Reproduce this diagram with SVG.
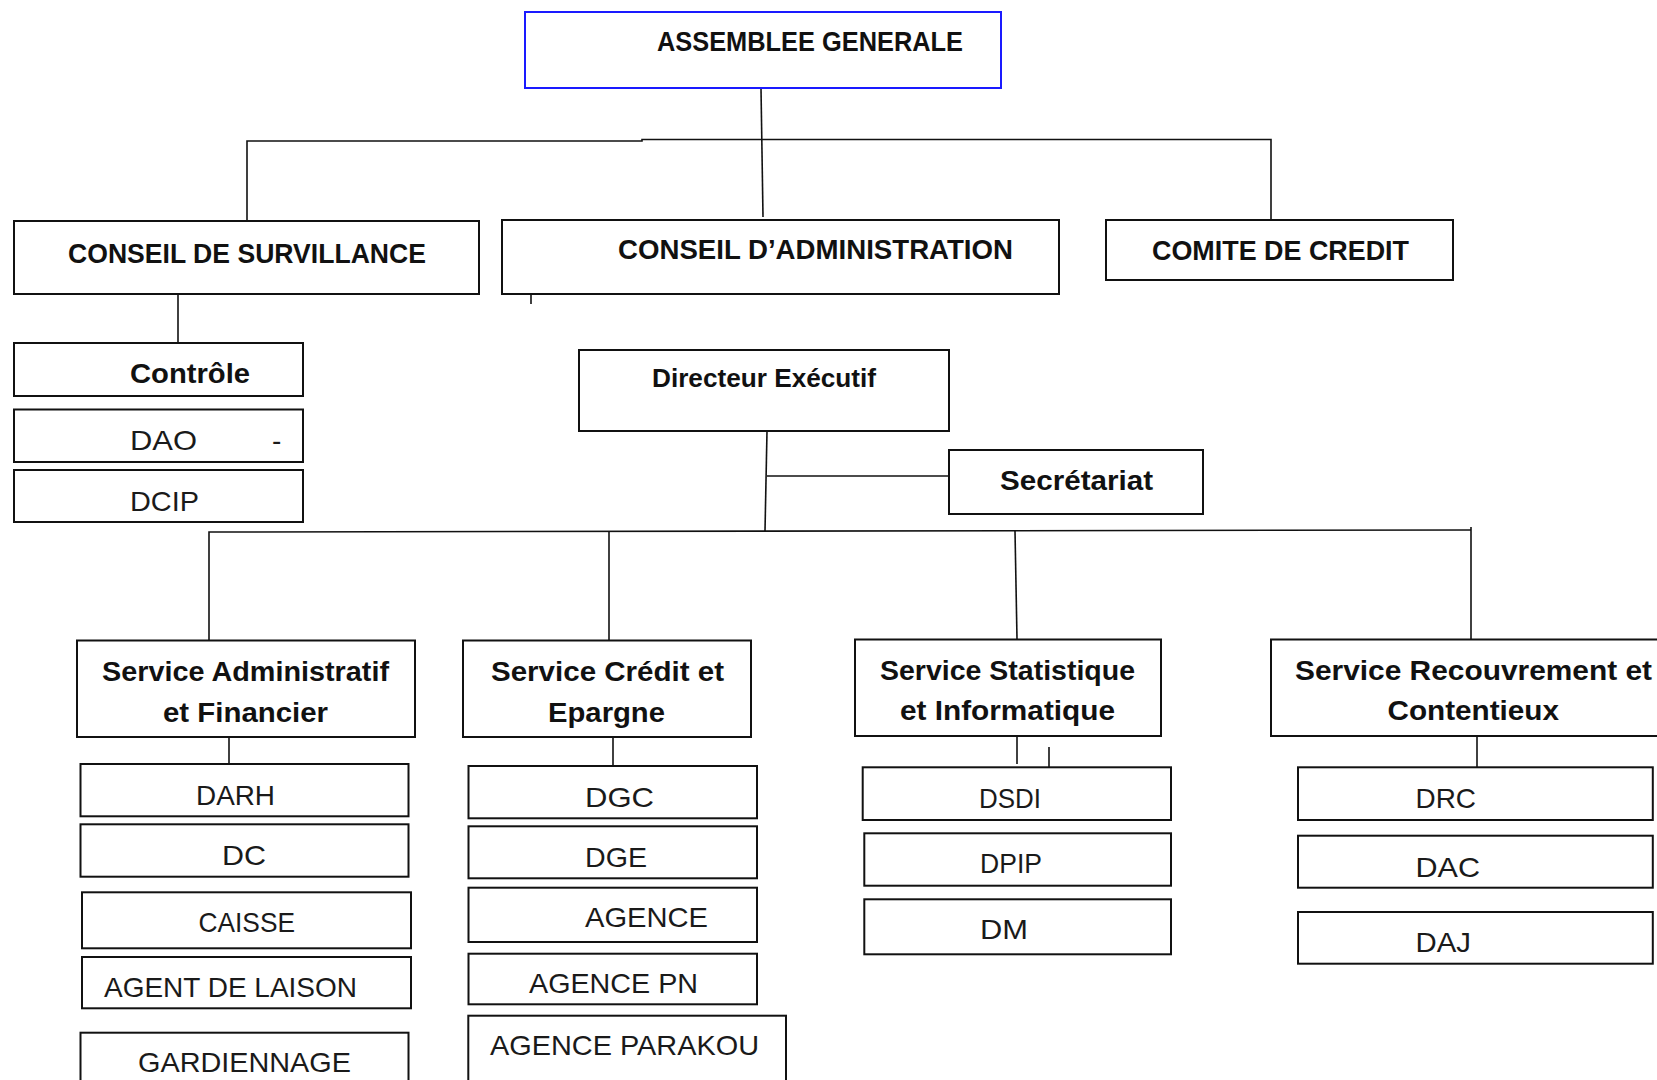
<svg xmlns="http://www.w3.org/2000/svg" width="1657" height="1080" viewBox="0 0 1657 1080">
<style>
.box{fill:#fff;stroke:#111;stroke-width:2}
.blue{fill:#fff;stroke:#1a1aff;stroke-width:2}
.c{fill:none;stroke:#111;stroke-width:1.6}
.b{font-family:"Liberation Sans",Arial,sans-serif;font-weight:bold;font-size:28px;fill:#111}
.bs{font-family:"Liberation Sans",Arial,sans-serif;font-weight:bold;font-size:25px;fill:#111}
.r{font-family:"Liberation Sans",Arial,sans-serif;font-size:28px;fill:#1a1a1a}
</style>
<rect width="1657" height="1080" fill="#fff"/>
<g id="connectors">
<path class="c" d="M761,88 L763,217"/>
<path class="c" d="M247,221 V141 H642 V139.5 H1271 V220"/>
<path class="c" d="M178,294 V343"/>
<path class="c" d="M531,294 V304"/>
<path class="c" d="M767,431 L765,531"/>
<path class="c" d="M767,476 H949"/>
<path class="c" d="M209,640 V532 L1471,530"/>
<path class="c" d="M1471,527 V639"/>
<path class="c" d="M609,532 V640"/>
<path class="c" d="M1015,531 L1017,639"/>
<path class="c" d="M229,737 V764"/>
<path class="c" d="M613,737 V766"/>
<path class="c" d="M1017,736 V764"/>
<path class="c" d="M1049,747 V776"/>
<path class="c" d="M1477,736 V767"/>
</g>
<g id="assemblee"><rect class="blue" x="525" y="12" width="476" height="76"/><text class="b" x="657" y="51" textLength="306" lengthAdjust="spacingAndGlyphs">ASSEMBLEE GENERALE</text></g>
<g id="conseil-surveillance"><rect class="box" x="14" y="221" width="465" height="73"/><text class="b" x="68" y="263" textLength="358" lengthAdjust="spacingAndGlyphs">CONSEIL DE SURVILLANCE</text></g>
<g id="conseil-administration"><rect class="box" x="502" y="220" width="557" height="74"/><text class="b" x="618" y="259" textLength="395" lengthAdjust="spacingAndGlyphs">CONSEIL D’ADMINISTRATION</text></g>
<g id="comite-credit"><rect class="box" x="1106" y="220" width="347" height="60"/><text class="b" x="1152" y="260" textLength="257" lengthAdjust="spacingAndGlyphs">COMITE DE CREDIT</text></g>
<g id="controle"><rect class="box" x="14" y="343" width="289" height="53"/><text class="b" x="130" y="383" textLength="120" lengthAdjust="spacingAndGlyphs">Contrôle</text></g>
<g id="dao"><rect class="box" x="14" y="409.5" width="289" height="52.5"/><text class="r" x="130" y="450" textLength="67" lengthAdjust="spacingAndGlyphs">DAO</text><text class="r" x="272" y="450">-</text></g>
<g id="dcip"><rect class="box" x="14" y="470" width="289" height="52"/><text class="r" x="130" y="511" textLength="69" lengthAdjust="spacingAndGlyphs">DCIP</text></g>
<g id="directeur"><rect class="box" x="579" y="350" width="370" height="81"/><text class="bs" x="652" y="387" textLength="224" lengthAdjust="spacingAndGlyphs">Directeur Exécutif</text></g>
<g id="secretariat"><rect class="box" x="949" y="450" width="254" height="64"/><text class="b" x="1000" y="490" textLength="153" lengthAdjust="spacingAndGlyphs">Secrétariat</text></g>
<g id="saf"><rect class="box" x="77" y="640.5" width="338" height="96.5"/><text class="b" x="102" y="681" textLength="287" lengthAdjust="spacingAndGlyphs">Service Administratif</text><text class="b" x="163" y="722" textLength="165" lengthAdjust="spacingAndGlyphs">et Financier</text></g>
<g id="sce"><rect class="box" x="463" y="640.5" width="288" height="96.5"/><text class="b" x="491" y="681" textLength="233" lengthAdjust="spacingAndGlyphs">Service Crédit et</text><text class="b" x="548" y="722" textLength="117" lengthAdjust="spacingAndGlyphs">Epargne</text></g>
<g id="ssi"><rect class="box" x="855" y="639.5" width="306" height="96.5"/><text class="b" x="880" y="680" textLength="255" lengthAdjust="spacingAndGlyphs">Service Statistique</text><text class="b" x="900" y="720" textLength="215" lengthAdjust="spacingAndGlyphs">et Informatique</text></g>
<g id="src"><rect class="box" x="1271" y="639.5" width="400" height="96.5"/><text class="b" x="1295" y="680" textLength="357" lengthAdjust="spacingAndGlyphs">Service Recouvrement et</text><text class="b" x="1387.5" y="720" textLength="171.5" lengthAdjust="spacingAndGlyphs">Contentieux</text></g>
<g id="darh"><rect class="box" x="80.5" y="764" width="328" height="52.3"/><text class="r" x="196" y="805" textLength="79" lengthAdjust="spacingAndGlyphs">DARH</text></g>
<g id="dc"><rect class="box" x="80.5" y="824.3" width="328" height="52.4"/><text class="r" x="222" y="865" textLength="44" lengthAdjust="spacingAndGlyphs">DC</text></g>
<g id="caisse"><rect class="box" x="82" y="892.3" width="329" height="56"/><text class="r" x="198.5" y="932" textLength="96.5" lengthAdjust="spacingAndGlyphs">CAISSE</text></g>
<g id="agent-laison"><rect class="box" x="82" y="957" width="329" height="51.3"/><text class="r" x="104" y="997" textLength="253" lengthAdjust="spacingAndGlyphs">AGENT DE LAISON</text></g>
<g id="gardiennage"><rect class="box" x="80.5" y="1032.7" width="328" height="70"/><text class="r" x="138" y="1072" textLength="213" lengthAdjust="spacingAndGlyphs">GARDIENNAGE</text></g>
<g id="dgc"><rect class="box" x="468.5" y="766" width="288.5" height="52.3"/><text class="r" x="585" y="807" textLength="69" lengthAdjust="spacingAndGlyphs">DGC</text></g>
<g id="dge"><rect class="box" x="468.5" y="826.3" width="288.5" height="52"/><text class="r" x="585" y="867" textLength="62" lengthAdjust="spacingAndGlyphs">DGE</text></g>
<g id="agence"><rect class="box" x="468.5" y="887.7" width="288.5" height="54.3"/><text class="r" x="585" y="927" textLength="123" lengthAdjust="spacingAndGlyphs">AGENCE</text></g>
<g id="agence-pn"><rect class="box" x="468.5" y="953.7" width="288.5" height="50.6"/><text class="r" x="529" y="993" textLength="169" lengthAdjust="spacingAndGlyphs">AGENCE PN</text></g>
<g id="agence-parakou"><rect class="box" x="468.3" y="1015.7" width="317.7" height="80"/><text class="r" x="490" y="1055" textLength="269" lengthAdjust="spacingAndGlyphs">AGENCE PARAKOU</text></g>
<g id="dsdi"><rect class="box" x="862.7" y="767.3" width="308.3" height="52.7"/><text class="r" x="979" y="808" textLength="62" lengthAdjust="spacingAndGlyphs">DSDI</text></g>
<g id="dpip"><rect class="box" x="864.3" y="833.3" width="306.7" height="52.4"/><text class="r" x="980" y="873" textLength="62" lengthAdjust="spacingAndGlyphs">DPIP</text></g>
<g id="dm"><rect class="box" x="864.3" y="899.3" width="306.7" height="55"/><text class="r" x="980" y="939" textLength="48" lengthAdjust="spacingAndGlyphs">DM</text></g>
<g id="drc"><rect class="box" x="1298" y="767.3" width="354.8" height="52.7"/><text class="r" x="1415.5" y="808" textLength="60.5" lengthAdjust="spacingAndGlyphs">DRC</text></g>
<g id="dac"><rect class="box" x="1298" y="835.7" width="354.8" height="52"/><text class="r" x="1415.5" y="877" textLength="64.5" lengthAdjust="spacingAndGlyphs">DAC</text></g>
<g id="daj"><rect class="box" x="1298" y="912" width="354.8" height="51.7"/><text class="r" x="1415.5" y="952" textLength="55.5" lengthAdjust="spacingAndGlyphs">DAJ</text></g>
</svg>
